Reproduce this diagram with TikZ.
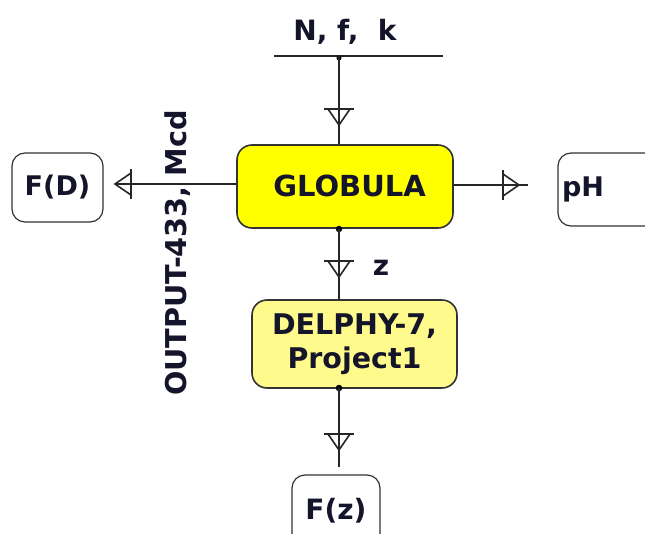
\documentclass[tikz,border=0pt]{standalone}
\usepackage{fontspec}
\setmainfont{DejaVu Sans}
\newcommand\fsz[1]{\bfseries\fontsize{#1}{#1}\selectfont}
\begin{document}
\begin{tikzpicture}[x=1pt,y=-1pt,
  txt/.style={font=\fsz{28}, text=ink},
  block/.style={draw=edge, line width=1.6pt, rounded corners=15pt, txt, align=center, inner sep=0pt},
  term/.style={draw=edge, line width=1.2pt, rounded corners=13pt, fill=white, txt, inner sep=0pt},
  wire/.style={draw=black!85, line width=1.6pt},
  dot/.style={circle, fill=black, inner sep=0pt, minimum size=6.5pt},
  valve/.pic={
    \draw[line width=1.8pt, black!85] (-15,0) -- (15,0);
    \draw[line width=1.6pt, black!85] (-11,0) -- (0,16) -- (11,0);
  }]
\definecolor{ink}{HTML}{14142A}
\definecolor{edge}{HTML}{333333}
\definecolor{hot}{HTML}{FFFF00}
\definecolor{pale}{HTML}{FFFA8C}
\useasboundingbox (0,0) rectangle (645,533);

% main blocks
\node[block, fill=hot, minimum width=216pt, minimum height=83pt] (glob) at (345,186.5) {};
\node[txt, font=\fsz{29}] (globt) at (349.5,186) {GLOBULA};
\node[block, fill=pale, minimum width=205pt, minimum height=88pt, font=\bfseries\fontsize{28.5}{34}\selectfont] (delphy) at (354.5,344) {DELPHY-7,\\Project1};

% terminals
\node[term, minimum width=91pt, minimum height=69pt, font=\fsz{27}] (fd) at (57.5,187.5) {F(D)};
\node[term, minimum width=100pt, minimum height=73pt, text width=92pt, align=left, font=\fsz{27}] (ph) at (608,189.5) {pH};
\node[term, minimum width=88pt, minimum height=72pt, font=\fsz{28}] (fz) at (336,511) {F(z)};

% input bus
\node[txt] (nfk) at (345,32) {N, f,\ \ k};
\coordinate (busL) at (274,56);
\coordinate (busR) at (443,56);
\coordinate (busJ) at (339,56);
\draw[wire] (busL) -- (busR);
\node[dot, minimum size=5pt] (bdot) at (339,58) {};
\draw[wire] (busJ) -- (busJ |- glob.north);
\pic at (339,109) {valve};

% output to F(D)
\coordinate (lout) at (237,184);
\draw[wire, shorten >=12pt] (lout) -- (fd.east |- lout);
\pic[rotate=-90] at (131,184) {valve};
\node[txt, rotate=90, font=\fsz{28.7}] (outlbl) at (178,253) {OUTPUT-433, Mcd};

% output to pH
\coordinate (rout) at (453,185);
\draw[wire, shorten >=29pt] (rout) -- (ph.west |- rout);
\pic[rotate=90] at (503,185) {valve};

% GLOBULA -> DELPHY
\coordinate (gbot) at (339,229);
\node[dot] (gdot) at (gbot) {};
\draw[wire] (gdot.center) -- (gdot.center |- delphy.north);
\pic at (339,261) {valve};
\node[txt] (zl) at (381,268) {z};

% DELPHY -> F(z)
\coordinate (dbot) at (339,388);
\node[dot] (ddot) at (dbot) {};
\draw[wire, shorten >=7pt] (ddot.center) -- (ddot.center |- fz.north);
\pic at (339,434) {valve};
\end{tikzpicture}
\end{document}
